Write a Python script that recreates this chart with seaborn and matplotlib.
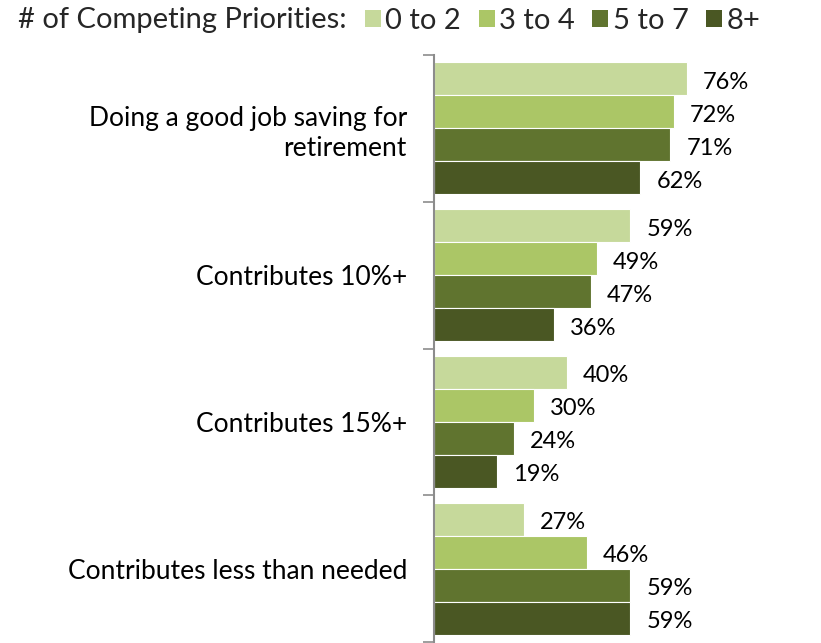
import matplotlib
matplotlib.use("Agg")
import matplotlib.pyplot as plt
import seaborn as sns
import pandas as pd
from matplotlib.patches import Patch

categories = [
    "Doing a good job saving for\nretirement",
    "Contributes 10%+",
    "Contributes 15%+",
    "Contributes less than needed",
]
groups = ["0 to 2", "3 to 4", "5 to 7", "8+"]
values = {
    "0 to 2": [76, 59, 40, 27],
    "3 to 4": [72, 49, 30, 46],
    "5 to 7": [71, 47, 24, 59],
    "8+": [62, 36, 19, 59],
}
colors = ["#C6D99B", "#ABC666", "#60742F", "#4A5723"]
legend_title = "# of Competing Priorities:"

rows = []
for g in groups:
    for c, v in zip(categories, values[g]):
        rows.append({"category": c, "group": g, "value": v})
df = pd.DataFrame(rows)

sns.set_theme(style="white")
plt.rcParams["font.family"] = ["Lato", "DejaVu Sans"]

W, H = 821, 643
fig = plt.figure(figsize=(W / 100, H / 100), dpi=100)
ax = fig.add_axes([434 / W, 1 / H, 333 / W, 587 / H])

sns.barplot(
    data=df, x="value", y="category", hue="group", hue_order=groups,
    order=categories, palette=colors, saturation=1, orient="h", width=0.9,
    edgecolor="white", linewidth=0.8, ax=ax, legend=False,
)

# value labels just right of each bar, nudged slightly downward
for cont, g in zip(ax.containers, groups):
    texts = ax.bar_label(cont, labels=[f"{v}%" for v in values[g]],
                         padding=11.5, fontsize=17, color="black")
    for t in texts:
        t.xyann = (11.5, -2.5)

ax.set_xlim(0, 100)
ax.set_ylim(3.5, -0.5)
ax.set_xlabel("")
ax.set_ylabel("")
ax.set_xticks([])

ax.set_yticks(range(len(categories)))
ax.set_yticklabels(categories, fontsize=19, color="black", ha="right",
                   multialignment="right", linespacing=1.25)
ax.tick_params(axis="y", which="major", length=0, pad=19.5)
ax.set_yticks([-0.5, 0.5, 1.5, 2.5, 3.5], minor=True)
ax.tick_params(axis="y", which="minor", length=8, width=1.2, color="#8C8C8C",
               left=True)

for s in ["top", "right", "bottom"]:
    ax.spines[s].set_visible(False)
ax.spines["left"].set_color("#8C8C8C")
ax.spines["left"].set_linewidth(1.5)

fig.text(18 / W, 1 - 20 / H, legend_title, fontsize=21, va="center", ha="left")
handles = [Patch(facecolor=c, edgecolor="none", label=g) for c, g in zip(colors, groups)]
fig.legend(handles=handles, loc="center left", bbox_to_anchor=(365 / W, 1 - 21 / H),
           ncol=4, frameon=False, fontsize=21, handlelength=0.55,
           handleheight=0.55, handletextpad=0.15, columnspacing=0.6,
           borderaxespad=0, borderpad=0)

fig.savefig("out.png", dpi=100)
